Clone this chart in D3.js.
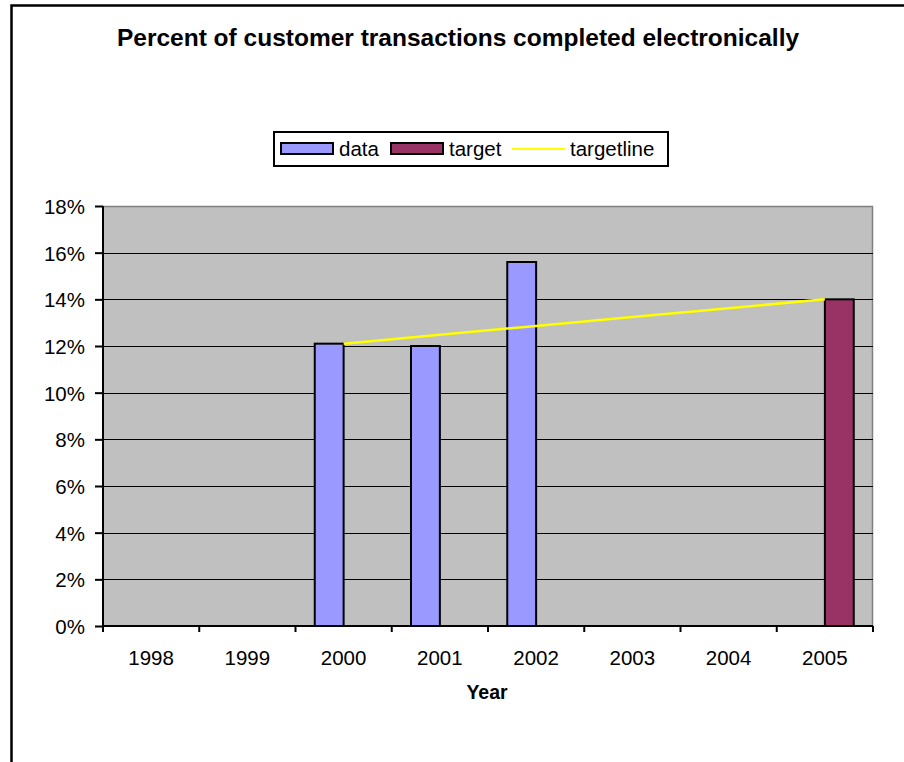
<!DOCTYPE html>
<html>
<head>
<meta charset="utf-8">
<script src="https://cdn.jsdelivr.net/npm/d3@7"></script>
<style>
  body { margin: 0; background: #fff; }
  text { font-family: "Liberation Sans", Arial, sans-serif; fill: #000; }
</style>
</head>
<body>
<div id="chart"></div>
<script>
const WIDTH = 904;
const HEIGHT = 762;

// data
const years = ["1998", "1999", "2000", "2001", "2002", "2003", "2004", "2005"];
const dataValues = [null, null, 12.1, 12.0, 15.6, null, null, null];
const targetValues = [null, null, null, null, null, null, null, 14.0];
const targetLine = [null, null, 12.1, 12.48, 12.86, 13.24, 13.62, 14.0];
const yTicks = [0, 2, 4, 6, 8, 10, 12, 14, 16, 18];

let margin = {top: 206, right: 31, bottom: 136, left: 103};
let width = WIDTH - margin.left - margin.right;
let height = HEIGHT - margin.top - margin.bottom;

let svg = d3.select("#chart").append("svg")
    .attr("width", WIDTH)
    .attr("height", HEIGHT);

// outer chart frame
svg.append("path")
    .attr("d", "M11.5," + HEIGHT + " L11.5,5.5 L" + WIDTH + ",5.5")
    .attr("fill", "none")
    .attr("stroke", "#000")
    .attr("stroke-width", 2.5);

// title
svg.append("text")
    .attr("x", 458)
    .attr("y", 46)
    .attr("text-anchor", "middle")
    .style("font-size", "24.5px")
    .style("font-weight", "bold")
    .text("Percent of customer transactions completed electronically");

let g = svg.append("g")
    .attr("transform", "translate(" + margin.left + "," + margin.top + ")");

// scales
let xScale = d3.scaleBand().domain(years).range([0, width]).padding(0);
let yScale = d3.scaleLinear().domain([0, 18]).range([height, 0]);
let barW = xScale.bandwidth() * 0.3;

// plot background
g.append("rect")
    .attr("width", width)
    .attr("height", height)
    .attr("fill", "#C0C0C0");
g.append("path")
    .attr("d", "M0,0.5 L" + (width - 0.5) + ",0.5 L" + (width - 0.5) + "," + height)
    .attr("fill", "none")
    .attr("stroke", "#808080")
    .attr("stroke-width", 1.5);

// horizontal grid lines
g.append("g").selectAll("line").data(yTicks.filter(d => d > 0 && d < 18)).enter()
  .append("line")
    .attr("x1", 0)
    .attr("x2", width)
    .attr("y1", d => Math.round(yScale(d)) + 0.5)
    .attr("y2", d => Math.round(yScale(d)) + 0.5)
    .attr("stroke", "#000")
    .attr("stroke-width", 1.2);

// data bars (left of cluster)
g.append("g").selectAll("rect").data(years.map((y, i) => ({y: y, v: dataValues[i]})).filter(d => d.v != null)).enter()
  .append("rect")
    .attr("x", d => xScale(d.y) + xScale.bandwidth() / 2 - barW)
    .attr("y", d => yScale(d.v))
    .attr("width", barW)
    .attr("height", d => height - yScale(d.v))
    .attr("fill", "#9999FF")
    .attr("stroke", "#000")
    .attr("stroke-width", 2);

// target bars (right of cluster)
g.append("g").selectAll("rect").data(years.map((y, i) => ({y: y, v: targetValues[i]})).filter(d => d.v != null)).enter()
  .append("rect")
    .attr("x", d => xScale(d.y) + xScale.bandwidth() / 2)
    .attr("y", d => yScale(d.v))
    .attr("width", barW)
    .attr("height", d => height - yScale(d.v))
    .attr("fill", "#993366")
    .attr("stroke", "#000")
    .attr("stroke-width", 2);

// target line
let line = d3.line()
    .defined(d => d.v != null)
    .x(d => xScale(d.y) + xScale.bandwidth() / 2)
    .y(d => yScale(d.v));
g.append("path")
    .datum(years.map((y, i) => ({y: y, v: targetLine[i]})))
    .attr("d", line)
    .attr("fill", "none")
    .attr("stroke", "#FFFF00")
    .attr("stroke-width", 2.5);

// y axis
let yAxis = d3.axisLeft(yScale).tickValues(yTicks).tickSize(8).tickPadding(10)
    .tickFormat(d => d + "%");
let yG = g.append("g").call(yAxis);
yG.select(".domain").attr("stroke", "#000").attr("stroke-width", 2).attr("d", "M0," + height + "V0");
yG.selectAll(".tick line").attr("stroke-width", 2);
yG.selectAll("text")
    .attr("dy", "0.37em")
    .style("font-size", "20.5px")
    .style("font-family", "Liberation Sans, Arial, sans-serif");

// x axis, ticks at category boundaries
let xG = g.append("g").attr("transform", "translate(0," + height + ")");
xG.append("line")
    .attr("x1", 0).attr("x2", width)
    .attr("stroke", "#000").attr("stroke-width", 2);
xG.selectAll("line.tk").data(years.concat(["end"])).enter()
  .append("line")
    .attr("class", "tk")
    .attr("x1", (d, i) => i * xScale.step())
    .attr("x2", (d, i) => i * xScale.step())
    .attr("y1", 0).attr("y2", 6)
    .attr("stroke", "#000").attr("stroke-width", 2);
xG.selectAll("text").data(years).enter()
  .append("text")
    .attr("x", d => xScale(d) + xScale.bandwidth() / 2)
    .attr("y", 39)
    .attr("text-anchor", "middle")
    .style("font-size", "20.5px")
    .text(d => d);

// x axis label
g.append("text")
    .attr("x", width / 2 - 1)
    .attr("y", height + 73)
    .attr("text-anchor", "middle")
    .style("font-size", "19.5px")
    .style("font-weight", "bold")
    .text("Year");

// legend
let legend = svg.append("g").attr("transform", "translate(274,132)");
legend.append("rect")
    .attr("width", 394).attr("height", 34)
    .attr("fill", "#fff").attr("stroke", "#000").attr("stroke-width", 2);
let items = [
  {label: "data", type: "rect", color: "#9999FF", x: 7},
  {label: "target", type: "rect", color: "#993366", x: 117},
  {label: "targetline", type: "line", color: "#FFFF00", x: 238}
];
items.forEach(it => {
  if (it.type === "rect") {
    legend.append("rect")
      .attr("x", it.x).attr("y", 11).attr("width", 52).attr("height", 11)
      .attr("fill", it.color).attr("stroke", "#000").attr("stroke-width", 2);
  } else {
    legend.append("line")
      .attr("x1", it.x).attr("x2", it.x + 53).attr("y1", 17).attr("y2", 17)
      .attr("stroke", it.color).attr("stroke-width", 2);
  }
  legend.append("text")
    .attr("x", it.x + 58).attr("y", 24)
    .style("font-size", "20.5px")
    .text(it.label);
});
</script>
</body>
</html>
